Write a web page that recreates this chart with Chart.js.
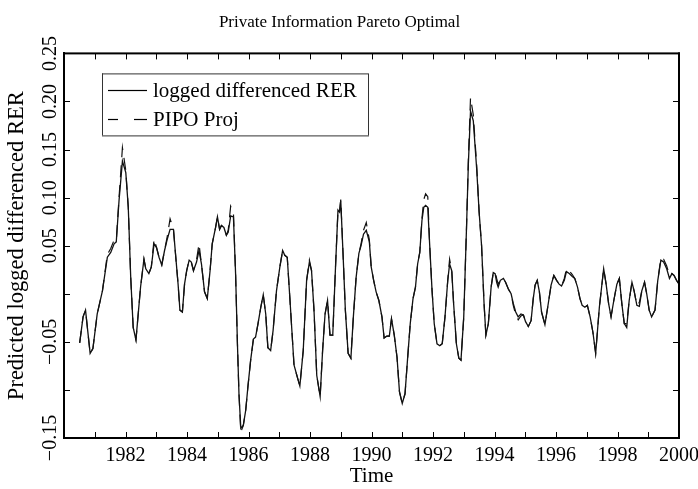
<!DOCTYPE html>
<html>
<head>
<meta charset="utf-8">
<script src="https://cdn.jsdelivr.net/npm/chart.js@4.4.0/dist/chart.umd.min.js"></script>
<style>
  html, body { margin: 0; padding: 0; background: #fff; }
  #wrap { width: 698px; height: 489px; }
</style>
</head>
<body>
<div id="wrap"><canvas id="grafico" width="698" height="489"></canvas></div>
<script>
// time axis (decimal years) of the points
const years = [
  1980.51, 1980.62, 1980.70, 1980.85, 1980.94, 1981.08, 1981.25, 1981.41, 1981.52, 1981.63,
  1981.70, 1981.79, 1981.90, 1982.01, 1982.09, 1982.17, 1982.25, 1982.34, 1982.49, 1982.60,
  1982.66, 1982.76, 1982.84, 1982.93, 1983.01, 1983.09, 1983.18, 1983.27, 1983.36, 1983.45,
  1983.56, 1983.63, 1983.71, 1983.77, 1983.85, 1983.92, 1983.99, 1984.07, 1984.14, 1984.21,
  1984.31, 1984.39, 1984.47, 1984.57, 1984.66, 1984.75, 1984.82, 1984.93, 1984.99, 1985.06,
  1985.12, 1985.20, 1985.28, 1985.34, 1985.42, 1985.51, 1985.58, 1985.64, 1985.69, 1985.75,
  1985.83, 1985.91, 1985.98, 1986.07, 1986.16, 1986.23, 1986.31, 1986.40, 1986.48, 1986.56,
  1986.63, 1986.72, 1986.80, 1986.91, 1987.02, 1987.11, 1987.18, 1987.26, 1987.35, 1987.48,
  1987.59, 1987.67, 1987.78, 1987.89, 1987.98, 1988.05, 1988.13, 1988.22, 1988.33, 1988.41,
  1988.49, 1988.57, 1988.65, 1988.74, 1988.83, 1988.91, 1988.96, 1989.00, 1989.07, 1989.15,
  1989.24, 1989.33, 1989.41, 1989.50, 1989.59, 1989.66, 1989.74, 1989.83, 1989.93, 1989.99,
  1990.07, 1990.15, 1990.24, 1990.34, 1990.41, 1990.50, 1990.58, 1990.65, 1990.74, 1990.83,
  1990.91, 1991.00, 1991.09, 1991.17, 1991.26, 1991.35, 1991.43, 1991.50, 1991.57, 1991.64,
  1991.70, 1991.76, 1991.83, 1991.89, 1991.97, 1992.04, 1992.13, 1992.22, 1992.30, 1992.39,
  1992.48, 1992.54, 1992.61, 1992.67, 1992.76, 1992.84, 1992.91, 1993.00, 1993.09, 1993.15,
  1993.22, 1993.31, 1993.42, 1993.50, 1993.58, 1993.66, 1993.72, 1993.80, 1993.89, 1993.96,
  1994.02, 1994.07, 1994.12, 1994.19, 1994.29, 1994.36, 1994.45, 1994.54, 1994.61, 1994.69,
  1994.77, 1994.86, 1994.94, 1995.01, 1995.10, 1995.19, 1995.26, 1995.32, 1995.39, 1995.46,
  1995.53, 1995.64, 1995.73, 1995.84, 1995.93, 1996.02, 1996.10, 1996.18, 1996.27, 1996.34,
  1996.43, 1996.53, 1996.61, 1996.70, 1996.78, 1996.85, 1996.94, 1997.02, 1997.11, 1997.20,
  1997.29, 1997.41, 1997.55, 1997.63, 1997.71, 1997.79, 1997.88, 1997.98, 1998.06, 1998.14,
  1998.22, 1998.30, 1998.38, 1998.47, 1998.54, 1998.63, 1998.71, 1998.79, 1998.88, 1998.95,
  1999.03, 1999.11, 1999.22, 1999.31, 1999.41, 1999.50, 1999.60, 1999.69, 1999.77, 1999.84,
  1999.92, 2000.00
];

// logged differenced RER (solid)
const rer = [
  -0.051, -0.024, -0.017, -0.062, -0.057, -0.021, 0.003, 0.038, 0.043, 0.052,
  0.054, 0.097, 0.138, 0.126, 0.090, 0.017, -0.035, -0.048, 0.007, 0.036,
  0.026, 0.021, 0.028, 0.052, 0.048, 0.038, 0.030, 0.045, 0.057, 0.067,
  0.067, 0.040, 0.010, -0.017, -0.019, 0.010, 0.024, 0.035, 0.033, 0.024,
  0.033, 0.045, 0.031, 0.002, -0.005, 0.024, 0.052, 0.069, 0.080, 0.067,
  0.071, 0.069, 0.061, 0.064, 0.081, 0.080, 0.021, -0.052, -0.104, -0.140,
  -0.137, -0.121, -0.097, -0.069, -0.047, -0.045, -0.031, -0.014, -0.001, -0.021,
  -0.056, -0.059, -0.038, 0.003, 0.028, 0.045, 0.040, 0.038, -0.007, -0.074,
  -0.087, -0.096, -0.059, 0.014, 0.033, 0.024, -0.017, -0.085, -0.107, -0.059,
  -0.021, -0.007, -0.043, -0.043, 0.028, 0.087, 0.085, 0.097, 0.045, -0.017,
  -0.062, -0.067, -0.024, 0.017, 0.042, 0.050, 0.062, 0.066, 0.054, 0.028,
  0.014, 0.002, -0.007, -0.024, -0.046, -0.044, -0.044, -0.026, -0.043, -0.066,
  -0.102, -0.114, -0.104, -0.069, -0.031, -0.005, 0.007, 0.031, 0.043, 0.076,
  0.090, 0.092, 0.090, 0.052, 0.003, -0.031, -0.052, -0.054, -0.052, -0.024,
  0.014, 0.031, 0.024, -0.010, -0.052, -0.067, -0.069, -0.024, 0.069, 0.135,
  0.190, 0.180, 0.130, 0.085, 0.050, -0.010, -0.043, -0.031, 0.007, 0.022,
  0.021, 0.012, 0.007, 0.014, 0.016, 0.012, 0.005, 0.000, -0.010, -0.019,
  -0.024, -0.021, -0.022, -0.029, -0.034, -0.028, -0.005, 0.009, 0.014, 0.002,
  -0.019, -0.032, -0.014, 0.009, 0.019, 0.014, 0.010, 0.008, 0.014, 0.023,
  0.021, 0.018, 0.016, 0.007, -0.005, -0.012, -0.014, -0.012, -0.024, -0.040,
  -0.062, -0.014, 0.026, 0.010, -0.010, -0.024, -0.007, 0.010, 0.016, -0.010,
  -0.031, -0.035, -0.007, 0.012, 0.003, -0.012, -0.013, 0.003, 0.012, 0.000,
  -0.017, -0.024, -0.017, 0.014, 0.035, 0.033, 0.026, 0.016, 0.021, 0.019,
  0.014, 0.010
];

// PIPO projection (dashed)
const pipo = [
  -0.051, -0.024, -0.017, -0.062, -0.057, -0.021, 0.003, 0.041, 0.047, 0.056,
  0.055, 0.100, 0.152, 0.128, 0.090, 0.017, -0.035, -0.048, 0.007, 0.036,
  0.026, 0.021, 0.028, 0.057, 0.048, 0.038, 0.030, 0.045, 0.060, 0.078,
  0.067, 0.040, 0.010, -0.017, -0.019, 0.010, 0.024, 0.035, 0.033, 0.024,
  0.035, 0.052, 0.031, 0.002, -0.005, 0.024, 0.052, 0.069, 0.080, 0.067,
  0.071, 0.069, 0.061, 0.066, 0.091, 0.084, 0.021, -0.052, -0.104, -0.144,
  -0.137, -0.121, -0.097, -0.069, -0.047, -0.045, -0.031, -0.014, -0.001, -0.021,
  -0.056, -0.059, -0.038, 0.003, 0.028, 0.045, 0.040, 0.038, -0.007, -0.074,
  -0.087, -0.096, -0.059, 0.014, 0.035, 0.024, -0.017, -0.085, -0.107, -0.059,
  -0.021, -0.007, -0.043, -0.043, 0.028, 0.087, 0.085, 0.098, 0.045, -0.017,
  -0.062, -0.067, -0.024, 0.017, 0.042, 0.052, 0.066, 0.074, 0.056, 0.028,
  0.014, 0.002, -0.007, -0.024, -0.046, -0.044, -0.044, -0.026, -0.043, -0.066,
  -0.102, -0.114, -0.104, -0.069, -0.031, -0.005, 0.007, 0.031, 0.043, 0.078,
  0.098, 0.104, 0.101, 0.052, 0.003, -0.031, -0.052, -0.054, -0.052, -0.024,
  0.014, 0.036, 0.024, -0.010, -0.052, -0.067, -0.069, -0.024, 0.069, 0.140,
  0.204, 0.186, 0.134, 0.085, 0.050, -0.010, -0.043, -0.031, 0.007, 0.022,
  0.023, 0.016, 0.010, 0.014, 0.016, 0.012, 0.005, 0.000, -0.012, -0.022,
  -0.027, -0.023, -0.022, -0.029, -0.034, -0.028, -0.005, 0.009, 0.014, 0.002,
  -0.019, -0.032, -0.014, 0.009, 0.019, 0.014, 0.010, 0.008, 0.016, 0.026,
  0.024, 0.020, 0.016, 0.007, -0.005, -0.012, -0.014, -0.012, -0.024, -0.040,
  -0.062, -0.014, 0.026, 0.010, -0.010, -0.024, -0.007, 0.010, 0.016, -0.010,
  -0.031, -0.031, -0.007, 0.012, 0.003, -0.012, -0.009, 0.003, 0.012, 0.000,
  -0.017, -0.024, -0.017, 0.014, 0.037, 0.036, 0.029, 0.019, 0.021, 0.019,
  0.014, 0.010
];

const yTickValues = [-0.15, -0.10, -0.05, 0, 0.05, 0.10, 0.15, 0.20, 0.25];
const yTickLabels = ['\u22120.15', '', '\u22120.05', '', '0.05', '0.10', '0.15', '0.20', '0.25'];
const xTickYears = [1980, 1981, 1982, 1983, 1984, 1985, 1986, 1987, 1988, 1989, 1990,
  1991, 1992, 1993, 1994, 1995, 1996, 1997, 1998, 1999, 2000];
const xLabelYears = [1982, 1984, 1986, 1988, 1990, 1992, 1994, 1996, 1998, 2000];

const serif = "'Liberation Serif', 'DejaVu Serif', serif";
const frameColor = '#000';

// axes box, inside ticks, rotated y labels and the boxed legend
const marco = {
  id: 'marco',
  afterDraw(chart) {
    const ctx = chart.ctx;
    const a = chart.chartArea;
    const x = chart.scales.x;
    const y = chart.scales.y;
    ctx.save();
    ctx.fillStyle = frameColor;
    ctx.fillRect(a.left - 1, a.top - 1, a.right - a.left + 2, 2);
    ctx.fillRect(a.left - 1, a.bottom - 1, a.right - a.left + 2, 2);
    ctx.fillRect(a.left - 1, a.top - 1, 2, a.bottom - a.top + 2);
    ctx.fillRect(a.right - 1, a.top - 1, 2, a.bottom - a.top + 2);

    xTickYears.forEach(v => {
      const px = Math.round(x.getPixelForValue(v));
      ctx.fillRect(px, a.bottom - 6, 1, 6);
      ctx.fillRect(px, a.top, 1, 6);
    });
    yTickValues.forEach(v => {
      const py = Math.round(y.getPixelForValue(v));
      ctx.fillRect(a.left, py, 6, 1);
      ctx.fillRect(a.right - 6, py, 6, 1);
    });

    ctx.fillStyle = '#000';
    ctx.font = '20px ' + serif;
    yTickValues.forEach((v, i) => {
      const lab = yTickLabels[i];
      if (!lab) return;
      ctx.save();
      ctx.translate(51, y.getPixelForValue(v));
      ctx.rotate(-Math.PI / 2);
      ctx.textAlign = 'center';
      ctx.textBaseline = 'middle';
      ctx.fillText(lab, 0, 0);
      ctx.restore();
    });

    const lx = a.left + 38, ly = a.top + 20, lw = 266, lh = 62;
    ctx.fillStyle = '#fff';
    ctx.fillRect(lx, ly, lw, lh);
    ctx.fillStyle = '#333';
    ctx.fillRect(lx, ly, lw, 1);
    ctx.fillRect(lx, ly + lh, lw + 1, 1);
    ctx.fillRect(lx, ly, 1, lh);
    ctx.fillRect(lx + lw, ly, 1, lh);
    const samples = [[[6, 45]], [[6, 16], [32, 45]]];
    ctx.fillStyle = '#000';
    chart.data.datasets.forEach((ds, i) => {
      const yy = ly + 17 + i * 29;
      samples[i].forEach(s => ctx.fillRect(lx + s[0], yy - 0.5, s[1] - s[0], 1.2));
      ctx.font = '21px ' + serif;
      ctx.textAlign = 'left';
      ctx.textBaseline = 'middle';
      ctx.fillText(ds.label, lx + 51, yy + 1);
    });
    ctx.restore();
  }
};

new Chart(document.getElementById('grafico'), {
  type: 'line',
  data: {
    datasets: [
      {
        label: 'logged differenced RER',
        data: years.map((v, i) => ({ x: v, y: rer[i] })),
        borderColor: '#111',
        borderWidth: 1.3,
        pointRadius: 0,
        tension: 0
      },
      {
        label: 'PIPO Proj',
        data: years.map((v, i) => ({ x: v, y: pipo[i] })),
        borderColor: '#111',
        borderWidth: 1.2,
        borderDash: [12, 8],
        pointRadius: 0,
        tension: 0
      }
    ]
  },
  options: {
    responsive: false,
    animation: false,
    layout: { padding: { left: 0, right: 19, top: 0, bottom: 0 } },
    plugins: {
      legend: { display: false },
      tooltip: { enabled: false },
      title: {
        display: true,
        text: 'Private Information Pareto Optimal',
        color: '#000',
        font: { family: serif, size: 17, weight: 'normal' },
        padding: { top: 12, bottom: 21 }
      }
    },
    scales: {
      x: {
        type: 'linear',
        min: 1980,
        max: 2000,
        afterBuildTicks: s => { s.ticks = xTickYears.map(v => ({ value: v })); },
        grid: { display: false, drawTicks: false },
        border: { display: true, color: '#000', width: 2 },
        ticks: {
          autoSkip: false,
          maxRotation: 0,
          padding: 6,
          color: '#000',
          font: { family: serif, size: 20 },
          callback: v => xLabelYears.includes(v) ? String(v) : ''
        },
        title: {
          display: true,
          text: 'Time',
          color: '#000',
          font: { family: serif, size: 21 },
          padding: { top: 0, bottom: 0 }
        },
        afterFit: s => { s.height = 51; s.paddingLeft = 0; s.paddingRight = 0; }
      },
      y: {
        min: -0.15,
        max: 0.25,
        afterBuildTicks: s => { s.ticks = yTickValues.map(v => ({ value: v })); },
        grid: { display: false, drawTicks: false },
        border: { display: true, color: '#000', width: 2 },
        ticks: { display: false },
        title: {
          display: true,
          text: 'Predicted logged differenced RER',
          color: '#000',
          font: { family: serif, size: 22.5 },
          padding: { top: 4, bottom: 0 }
        },
        afterFit: s => { s.width = 64; s.paddingTop = 0; s.paddingBottom = 0; }
      }
    }
  },
  plugins: [marco]
});
</script>
</body>
</html>
